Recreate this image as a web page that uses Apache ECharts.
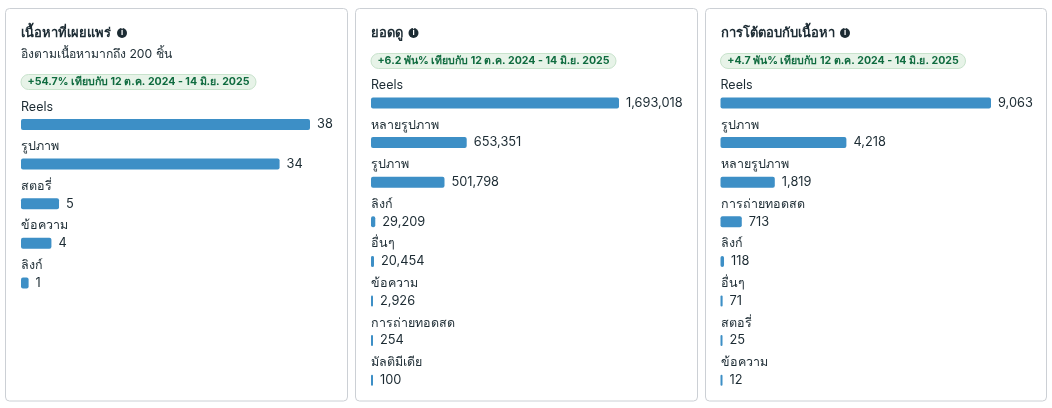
<!DOCTYPE html>
<html><head><meta charset="utf-8">
<style>html,body{margin:0;padding:0;background:#fff}#c{width:1052px;height:408px}</style>
<script src="https://cdn.jsdelivr.net/npm/echarts@6/dist/echarts.min.js"></script>
</head><body><div id="c"></div>
<script>
const titles = ['เนื้อหาที่เผยแพร่','ยอดดู','การโต้ตอบกับเนื้อหา'];
const subtitle = 'อิงตามเนื้อหามากถึง 200 ชิ้น';
const badges = ['+54.7% เทียบกับ 12 ต.ค. 2024 - 14 มิ.ย. 2025','+6.2 พัน% เทียบกับ 12 ต.ค. 2024 - 14 มิ.ย. 2025','+4.7 พัน% เทียบกับ 12 ต.ค. 2024 - 14 มิ.ย. 2025'];
const cats1 = ['Reels','รูปภาพ','สตอรี่','ข้อความ','ลิงก์'];
const vals1 = [38,34,5,4,1];
const cats2 = ['Reels','หลายรูปภาพ','รูปภาพ','ลิงก์','อื่นๆ','ข้อความ','การถ่ายทอดสด','มัลติมีเดีย'];
const vals2 = [1693018,653351,501798,29209,20454,2926,254,100];
const cats3 = ['Reels','รูปภาพ','หลายรูปภาพ','การถ่ายทอดสด','ลิงก์','อื่นๆ','สตอรี่','ข้อความ'];
const vals3 = [9063,4218,1819,713,118,71,25,12];

const FONT = "Inter, 'Noto Sans', 'Noto Sans CJK SC', sans-serif";
const INK = '#1c2b33', BAR = '#3d8fc6';
const panels = [
  {cats:cats1, vals:vals1, card:[5.5,8.5,342,392.5], left:21, w:289, top:104.7, titleY:33, iconX:122, badgeY:82, badgeW:235},
  {cats:cats2, vals:vals2, card:[355.5,8.5,342,392.5], left:371, w:248, top:83.2, titleY:33, iconX:413.5, badgeY:61, badgeW:245},
  {cats:cats3, vals:vals3, card:[705.5,8.5,341,392.5], left:720.5, w:270.5, top:83.2, titleY:33, iconX:845, badgeY:61, badgeW:245}
];
const PITCH = 39.6;
const fmt = v => v.toLocaleString('en-US');
const grid=[], xAxis=[], yAxis=[], series=[], graphic=[];
panels.forEach((p,i)=>{
  grid.push({left:p.left, width:p.w, top:p.top, height:PITCH*p.cats.length, containLabel:false});
  xAxis.push({gridIndex:i, type:'value', min:0, max:p.vals[0], show:false});
  yAxis.push({gridIndex:i, type:'category', inverse:true, data:p.cats,
    axisLine:{show:false}, axisTick:{show:false}, splitLine:{show:false},
    axisLabel:{inside:true, margin:0, align:'left', verticalAlign:'bottom', padding:[0,0,11.5,0],
      color:INK, fontSize:12.5, fontFamily:FONT, hideOverlap:false, interval:0}});
  series.push({type:'bar', xAxisIndex:i, yAxisIndex:i, data:p.vals, barWidth:11, barMinHeight:2,
    itemStyle:{color:BAR, borderRadius:2}, silent:true, animation:false,
    label:{show:true, position:'right', distance:7, color:INK, fontSize:12.8, fontFamily:FONT, formatter:o=>fmt(o.value)}});
  const [x,y,w,h]=p.card;
  graphic.push({type:'rect', z:-1, shape:{x,y,width:w,height:h,r:4}, style:{fill:'#fff',stroke:'#ccd0d5',lineWidth:1}});
  const tx=p.left;
  graphic.push({type:'text', x:tx, y:p.titleY, style:{text:titles[i], fill:INK, font:`700 13px ${FONT}`, verticalAlign:'middle'}});
  const ix=p.iconX;
  graphic.push({type:'circle', shape:{cx:ix,cy:p.titleY,r:5}, style:{fill:'#1c2b33'}});
  graphic.push({type:'text', x:ix, y:p.titleY, style:{text:'i', fill:'#fff', font:`700 8px ${FONT}`, align:'center', verticalAlign:'middle'}});
  if(i===0) graphic.push({type:'text', x:tx, y:54.5, style:{text:subtitle, fill:INK, font:`12.2px ${FONT}`, verticalAlign:'middle'}});
  graphic.push({type:'rect', shape:{x:tx,y:p.badgeY-7.5,width:p.badgeW,height:15,r:7.5}, style:{fill:'#e7f3e8',stroke:'#c8e3cc',lineWidth:1}});
  graphic.push({type:'text', x:tx+p.badgeW/2, y:p.badgeY, style:{text:badges[i], fill:'#0f6b3f', font:`700 10.6px ${FONT}`, align:'center', verticalAlign:'middle'}});
});
const chart = echarts.init(document.getElementById('c'),null,{renderer:'canvas'});
chart.setOption({animation:false, backgroundColor:'#fff', grid, xAxis, yAxis, series, graphic});
</script></body></html>
